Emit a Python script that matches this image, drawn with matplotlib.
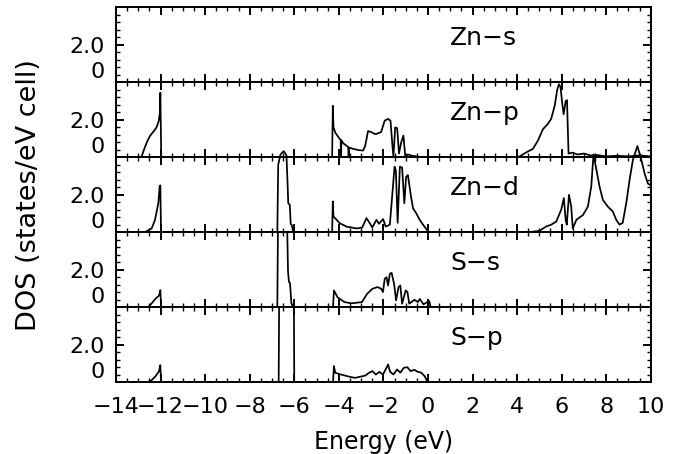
"""Projected DOS of ZnS: Zn-s, Zn-p, Zn-d, S-s, S-p panels."""
import matplotlib
matplotlib.use("Agg")
import matplotlib.pyplot as plt
from matplotlib.ticker import MultipleLocator

plt.rcParams["font.family"] = ["DejaVu Sans"]

# --- data (energy in eV, DOS in states/eV cell) ---
zn_s_e = [-14, 10]
zn_s_dos = [0, 0]

zn_p_e = [-14, -12.9, -12.85, -12.7, -12.6, -12.47, -12.3, -12.18, -12.08, -12.03,
          -12.01, -11.97, -4.3, -4.27, -4.24, -4.15, -3.96, -3.92, -3.9, -3.88, -3.8,
          -3.66, -3.58, -3.56, -3.54, -3.36, -3.1, -2.91, -2.82, -2.76, -2.69, -2.55,
          -2.4, -2.31, -2.1, -1.94, -1.79, -1.68, -1.6, -1.55, -1.47, -1.38, -1.3,
          -1.2, -1.1, -1.02, -0.9, -0.7, -0.5, -0.3, 3.9, 4.12, 4.42, 4.71, 4.94,
          5.16, 5.38, 5.53, 5.69, 5.8, 5.88, 5.95, 6.03, 6.09, 6.18, 6.24, 6.31, 6.5,
          6.7, 7.0, 7.3, 7.6, 8.0, 8.5, 9.0, 9.5, 10]
zn_p_dos = [0, 0, 0.05, 0.55, 0.85, 1.15, 1.4, 1.6, 1.95, 2.4,
            3.45, 0, 0, 2.75, 1.6, 1.3, 0.98, 0.95, 0.0, 0.9, 0.75,
            0.62, 0.55, 0.0, 0.52, 0.45, 0.38, 0.36, 0.6, 0.95, 1.4, 1.35,
            1.25, 1.25, 1.35, 1.96, 2.05, 1.95, 0.7, 0.05, 1.6, 1.55, 0.2,
            0.8, 1.16, 0.05, 0.15, 0.08, 0.05, 0, 0, 0.05, 0.27, 0.45, 0.9,
            1.5, 1.78, 2.05, 2.76, 3.6, 3.9, 3.75, 2.85, 2.3, 3.0, 3.05, 0.2, 0.25,
            0.15, 0.2, 0.1, 0.12, 0.05, 0.08, 0.05, 0.1, 0.05]

zn_d_e = [-14, -12.7, -12.63, -12.4, -12.25, -12.1, -12.04, -12.01, -11.98, -6.76,
          -6.72, -6.62, -6.47, -6.35, -6.3, -6.27, -6.2, -6.16, -6.1, -6.05, -4.3,
          -4.27, -4.24, -3.96, -3.66, -3.2, -2.95, -2.76, -2.61, -2.5, -2.31, -2.2,
          -2.01, -1.9, -1.71, -1.6, -1.5, -1.44, -1.36, -1.26, -1.16, -1.06, -0.98,
          -0.9, -0.76, -0.67, -0.52, -0.37, -0.22, 0.0, 0.1, 4.5, 5.0, 5.3, 5.53,
          5.76, 5.98, 6.1, 6.18, 6.23, 6.33, 6.43, 6.5, 6.66, 6.96, 7.18, 7.33, 7.43,
          7.52, 7.7, 7.85, 8.07, 8.3, 8.45, 8.6, 8.74, 8.9, 9.05, 9.2, 9.4, 9.57,
          9.72, 9.87, 10]
zn_d_dos = [0, 0, 0.05, 0.2, 0.66, 1.55, 2.45, 2.5, 0, 0,
            3.6, 4.15, 4.33, 4.1, 2.6, 1.55, 1.45, 0.45, 0.35, 0, 0,
            1.64, 0.84, 0.48, 0.3, 0.2, 0.25, 0.75, 0.48, 0.25, 0.66, 0.45,
            0.7, 0.3, 0.4, 2.0, 3.5, 3.3, 0.5, 3.5, 3.45, 1.55, 2.95,
            3.05, 1.9, 1.28, 1.0, 0.66, 0.4, 0.05, 0, 0, 0.07, 0.3, 0.4,
            0.57, 1.2, 1.82, 0.66, 0.4, 2.0, 1.37, 0.2, 0.66, 0.92, 1.37, 2.44, 4.15,
            3.6, 2.44, 1.73, 1.37, 1.1, 0.66, 0.4, 0.5, 1.55, 2.8, 3.87, 4.6, 3.9,
            3.15, 2.6, 2.5]

s_s_e = [-14, -12.55, -12.4, -12.23, -12.07, -12.01, -11.98, -6.76, -6.72, -6.5,
         -6.33, -6.28, -6.24, -6.19, -6.13, -6.05, -4.26, -4.22, -4.06, -3.75,
         -3.43, -2.96, -2.73, -2.49, -2.26, -2.1, -2.02, -1.94, -1.86, -1.79,
         -1.71, -1.63, -1.52, -1.43, -1.32, -1.24, -1.16, -1.0, -0.92, -0.84,
         -0.61, -0.45, -0.37, -0.2, 0.06, 0.12, 10]
s_s_dos = [0, 0, 0.2, 0.44, 0.62, 0.9, 0, 0, 6, 6,
           5, 1.9, 1.35, 1.28, 0.2, 0, 0, 0.89, 0.53, 0.27,
           0.2, 0.27, 0.71, 0.98, 1.07, 0.98, 0.8, 1.51, 1.6, 1.15,
           1.78, 1.83, 1.24, 0.36, 1.07, 1.15, 0.18, 0.89, 0.8, 0.18,
           0.39, 0.27, 0.44, 0.15, 0.32, 0, 0]

s_p_e = [-14, -12.55, -12.4, -12.23, -12.07, -12.01, -11.98, -6.7, -6.66, -6.3,
         -6.03, -6.0, -4.26, -4.22, -4.16, -3.9, -3.59, -3.28, -2.96, -2.8, -2.65,
         -2.49, -2.34, -2.18, -2.02, -1.86, -1.79, -1.7, -1.55, -1.39, -1.24, -1.08,
         -0.93, -0.77, -0.61, -0.45, -0.3, -0.14, -0.06, 0.0, 10]
s_p_dos = [0, 0, 0.1, 0.3, 0.58, 0.9, 0, 0, 8, 9,
           8, 0, 0, 0.85, 0.49, 0.4, 0.3, 0.22, 0.3, 0.35, 0.49,
           0.58, 0.4, 0.54, 0.4, 0.76, 0.94, 0.55, 0.4, 0.67, 0.5, 0.76,
           0.79, 0.58, 0.65, 0.54, 0.5, 0.3, 0.1, 0, 0]

panels = [("Zn\u2212s", zn_s_e, zn_s_dos, True),
          ("Zn\u2212p", zn_p_e, zn_p_dos, True),
          ("Zn\u2212d", zn_d_e, zn_d_dos, False),
          ("S\u2212s", s_s_e, s_s_dos, True),
          ("S\u2212p", s_p_e, s_p_dos, True)]

fig, axes = plt.subplots(5, 1, sharex=True, figsize=(6.8, 4.54), dpi=100)
fig.subplots_adjust(left=0.1706, right=0.957, top=0.9835, bottom=0.1586, hspace=0)

for ax, (name, e, dos, clip) in zip(axes, panels):
    ax.plot(e, dos, color="black", lw=1.25, clip_on=clip)
    ax.set_xlim(-14, 10)
    ax.set_ylim(0, 4)
    ax.set_yticks([0, 2, 4])
    ax.set_yticklabels(["0", "2.0", ""])
    ax.yaxis.set_minor_locator(MultipleLocator(0.4))
    ax.xaxis.set_major_locator(MultipleLocator(2))
    ax.xaxis.set_minor_locator(MultipleLocator(0.5))
    ax.tick_params(which="both", direction="in", top=True, right=True,
                   labelsize=16, width=1.4)
    ax.tick_params(which="major", length=6)
    ax.tick_params(which="minor", length=3.2, width=1.0)
    ax.tick_params(axis="y", pad=8)
    ax.tick_params(axis="x", pad=11)
    ax.yaxis.get_major_ticks()[0].label1.set_verticalalignment("bottom")
    for sp in ax.spines.values():
        sp.set_linewidth(1.4)
    ax.text(1.0, 2.0, name, fontsize=18, ha="left", va="baseline")

axes[-1].set_xticks(range(-14, 11, 2))
axes[-1].set_xticklabels([str(v).replace("-", "\u2212") for v in range(-14, 11, 2)])
axes[-1].set_xlabel("Energy (eV)", fontsize=17, labelpad=9)
fig.text(0.042, 0.57, "DOS (states/eV cell)", fontsize=19.5, rotation=90,
         ha="center", va="center")

fig.savefig("out.png", dpi=100)
